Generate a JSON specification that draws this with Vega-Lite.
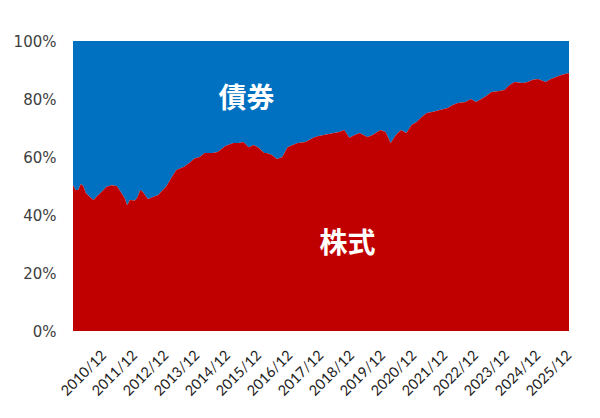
{
  "$schema": "https://vega.github.io/schema/vega-lite/v6.json",
  "autosize": {"type": "none"},
  "width": 496,
  "height": 290,
  "padding": {"left": 73, "top": 41, "right": 31, "bottom": 87},
  "background": "white",
  "config": {"view": {"stroke": null}, "font": "Lato"},
  "datasets": {
    "share": [
      {"date": "2009/12/01", "stock": 50.3},
      {"date": "2010/01/01", "stock": 48.6},
      {"date": "2010/02/01", "stock": 48.6},
      {"date": "2010/03/01", "stock": 50.7},
      {"date": "2010/04/01", "stock": 50.0},
      {"date": "2010/05/01", "stock": 47.6},
      {"date": "2010/07/01", "stock": 45.9},
      {"date": "2010/08/01", "stock": 45.2},
      {"date": "2010/09/01", "stock": 46.2},
      {"date": "2010/11/01", "stock": 47.9},
      {"date": "2011/01/01", "stock": 49.7},
      {"date": "2011/03/01", "stock": 50.3},
      {"date": "2011/05/01", "stock": 50.0},
      {"date": "2011/06/01", "stock": 48.6},
      {"date": "2011/08/01", "stock": 45.9},
      {"date": "2011/09/01", "stock": 43.4},
      {"date": "2011/10/01", "stock": 45.2},
      {"date": "2011/12/01", "stock": 45.0},
      {"date": "2012/01/01", "stock": 46.2},
      {"date": "2012/02/01", "stock": 48.6},
      {"date": "2012/03/01", "stock": 48.0},
      {"date": "2012/05/01", "stock": 45.5},
      {"date": "2012/07/01", "stock": 46.2},
      {"date": "2012/09/01", "stock": 46.9},
      {"date": "2012/10/01", "stock": 47.9},
      {"date": "2012/12/01", "stock": 49.7},
      {"date": "2013/02/01", "stock": 52.8},
      {"date": "2013/04/01", "stock": 55.5},
      {"date": "2013/07/01", "stock": 56.6},
      {"date": "2013/09/01", "stock": 57.9},
      {"date": "2013/11/01", "stock": 59.5},
      {"date": "2014/01/01", "stock": 60.0},
      {"date": "2014/03/01", "stock": 61.4},
      {"date": "2014/06/01", "stock": 61.4},
      {"date": "2014/08/01", "stock": 61.7},
      {"date": "2014/11/01", "stock": 63.8},
      {"date": "2015/02/01", "stock": 64.8},
      {"date": "2015/04/01", "stock": 64.8},
      {"date": "2015/06/01", "stock": 65.2},
      {"date": "2015/08/01", "stock": 63.4},
      {"date": "2015/10/01", "stock": 64.1},
      {"date": "2015/12/01", "stock": 63.1},
      {"date": "2016/02/01", "stock": 61.4},
      {"date": "2016/03/01", "stock": 61.4},
      {"date": "2016/05/01", "stock": 60.7},
      {"date": "2016/07/01", "stock": 59.3},
      {"date": "2016/09/01", "stock": 60.0},
      {"date": "2016/11/01", "stock": 63.4},
      {"date": "2017/01/01", "stock": 64.1},
      {"date": "2017/03/01", "stock": 64.8},
      {"date": "2017/06/01", "stock": 65.2},
      {"date": "2017/09/01", "stock": 66.6},
      {"date": "2017/11/01", "stock": 67.2},
      {"date": "2018/02/01", "stock": 67.8},
      {"date": "2018/05/01", "stock": 68.3},
      {"date": "2018/07/01", "stock": 68.6},
      {"date": "2018/09/01", "stock": 69.3},
      {"date": "2018/11/01", "stock": 66.6},
      {"date": "2019/01/01", "stock": 67.6},
      {"date": "2019/03/01", "stock": 68.3},
      {"date": "2019/06/01", "stock": 66.9},
      {"date": "2019/08/01", "stock": 67.6},
      {"date": "2019/11/01", "stock": 69.3},
      {"date": "2020/01/01", "stock": 68.6},
      {"date": "2020/03/01", "stock": 64.8},
      {"date": "2020/05/01", "stock": 67.6},
      {"date": "2020/07/01", "stock": 69.3},
      {"date": "2020/09/01", "stock": 68.3},
      {"date": "2020/11/01", "stock": 71.0},
      {"date": "2021/01/01", "stock": 72.1},
      {"date": "2021/03/01", "stock": 73.8},
      {"date": "2021/05/01", "stock": 75.2},
      {"date": "2021/07/01", "stock": 75.5},
      {"date": "2021/10/01", "stock": 76.2},
      {"date": "2022/01/01", "stock": 76.9},
      {"date": "2022/03/01", "stock": 77.9},
      {"date": "2022/05/01", "stock": 78.6},
      {"date": "2022/08/01", "stock": 79.0},
      {"date": "2022/10/01", "stock": 80.0},
      {"date": "2022/12/01", "stock": 79.0},
      {"date": "2023/02/01", "stock": 80.0},
      {"date": "2023/04/01", "stock": 81.0},
      {"date": "2023/06/01", "stock": 82.4},
      {"date": "2023/09/01", "stock": 82.8},
      {"date": "2023/11/01", "stock": 83.1},
      {"date": "2024/01/01", "stock": 84.8},
      {"date": "2024/03/01", "stock": 85.9},
      {"date": "2024/06/01", "stock": 85.5},
      {"date": "2024/08/01", "stock": 85.9},
      {"date": "2024/10/01", "stock": 86.6},
      {"date": "2024/12/01", "stock": 86.9},
      {"date": "2025/03/01", "stock": 85.9},
      {"date": "2025/05/01", "stock": 86.9},
      {"date": "2025/07/01", "stock": 87.6},
      {"date": "2025/09/01", "stock": 88.3},
      {"date": "2025/12/01", "stock": 89.0}
    ],
    "labels": [
      {"label": "債券", "date": "2015/07/07", "pct": 79.8},
      {"label": "株式", "date": "2018/10/10", "pct": 29.5}
    ]
  },
  "encoding": {
    "x": {
      "field": "date",
      "type": "temporal",
      "title": null,
      "scale": {"domain": [{"year": 2009, "month": 12, "date": 1}, {"year": 2025, "month": 12, "date": 1}], "nice": false},
      "axis": {
        "values": [
          {"year": 2010, "month": 12, "date": 1},
          {"year": 2011, "month": 12, "date": 1},
          {"year": 2012, "month": 12, "date": 1},
          {"year": 2013, "month": 12, "date": 1},
          {"year": 2014, "month": 12, "date": 1},
          {"year": 2015, "month": 12, "date": 1},
          {"year": 2016, "month": 12, "date": 1},
          {"year": 2017, "month": 12, "date": 1},
          {"year": 2018, "month": 12, "date": 1},
          {"year": 2019, "month": 12, "date": 1},
          {"year": 2020, "month": 12, "date": 1},
          {"year": 2021, "month": 12, "date": 1},
          {"year": 2022, "month": 12, "date": 1},
          {"year": 2023, "month": 12, "date": 1},
          {"year": 2024, "month": 12, "date": 1},
          {"year": 2025, "month": 12, "date": 1}
        ],
        "format": "%Y/%m",
        "labelAngle": -45,
        "labelAlign": "right",
        "labelBaseline": "middle",
        "labelFont": "Lato",
        "labelFontSize": 14.5,
        "labelColor": "#222222",
        "labelPadding": 22,
        "labelOverlap": false,
        "labelFlush": false,
        "ticks": false,
        "tickSize": 0,
        "domain": false,
        "grid": false
      }
    }
  },
  "layer": [
    {
      "data": {"name": "share"},
      "mark": {"type": "area", "color": "#0070C0"},
      "encoding": {
        "y": {
          "field": "stock",
          "type": "quantitative",
          "title": null,
          "scale": {"domain": [0, 100], "nice": false},
          "axis": {
            "values": [0, 20, 40, 60, 80, 100],
            "labelExpr": "datum.value + '%'",
            "labelFont": "DejaVu Sans",
            "labelFontSize": 15,
            "labelColor": "#404040",
            "labelPadding": 17,
            "ticks": false,
            "tickSize": 0,
            "domain": false,
            "grid": false
          }
        },
        "y2": {"datum": 100}
      }
    },
    {
      "data": {"name": "share"},
      "mark": {"type": "area", "color": "#C00000"},
      "encoding": {
        "y": {"field": "stock", "type": "quantitative"}
      }
    },
    {
      "data": {"name": "labels"},
      "mark": {"type": "text", "color": "white", "font": "Noto Sans CJK JP", "fontWeight": "bold", "fontSize": 28, "align": "center", "baseline": "middle"},
      "encoding": {
        "y": {"field": "pct", "type": "quantitative"},
        "text": {"field": "label"}
      }
    }
  ]
}
